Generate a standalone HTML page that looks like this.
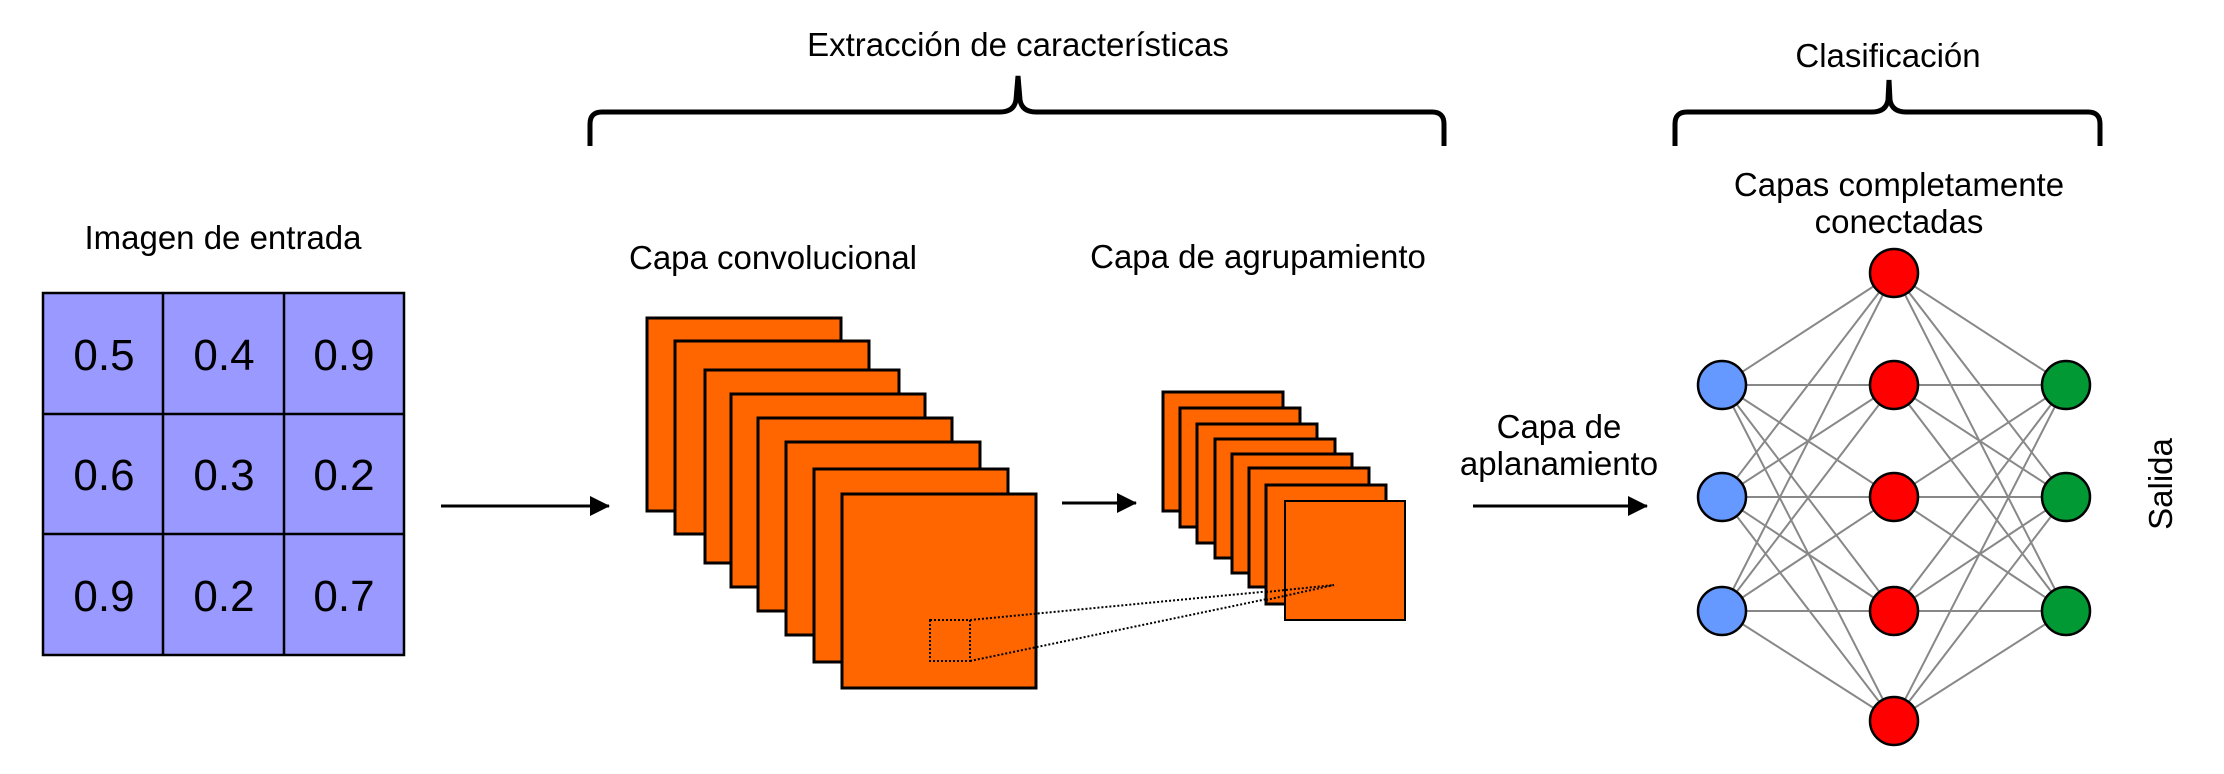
<!DOCTYPE html>
<html><head><meta charset="utf-8"><style>
html,body{margin:0;padding:0;background:#fff;}
svg{display:block;}
text{font-family:"Liberation Sans",Arial,sans-serif;fill:#000;}
</style></head><body>
<svg width="2224" height="774" viewBox="0 0 2224 774" xmlns="http://www.w3.org/2000/svg">
<defs>
<marker id="ah" markerWidth="20" markerHeight="20" refX="19" refY="10" orient="auto" markerUnits="userSpaceOnUse">
<path d="M0,0 L20,10 L0,20 z" fill="#000"/>
</marker>
</defs>
<text x="1018" y="56" font-size="33" text-anchor="middle">Extracción de características</text>
<text x="1888" y="67" font-size="33" text-anchor="middle">Clasificación</text>
<path d="M590,146 V124 Q590,112 602,112 H1000 Q1014,112 1016,100 L1018,76 L1020,100 Q1022,112 1036,112 H1432 Q1444,112 1444,124 V146" fill="none" stroke="#000" stroke-width="5"/>
<path d="M1675,146 V124 Q1675,112 1687,112 H1872 Q1886,112 1888,100 L1889,80 L1890,100 Q1892,112 1906,112 H2088 Q2100,112 2100,124 V146" fill="none" stroke="#000" stroke-width="5"/>

<text x="223" y="249" font-size="33" text-anchor="middle">Imagen de entrada</text>
<rect x="43" y="293" width="361" height="362" fill="#9999ff" stroke="#000" stroke-width="2.5"/>
<line x1="163" y1="293" x2="163" y2="655" stroke="#000" stroke-width="2.5"/>
<line x1="284" y1="293" x2="284" y2="655" stroke="#000" stroke-width="2.5"/>
<line x1="43" y1="414" x2="404" y2="414" stroke="#000" stroke-width="2.5"/>
<line x1="43" y1="534" x2="404" y2="534" stroke="#000" stroke-width="2.5"/>
<g font-size="44" text-anchor="middle">
<text x="104" y="370">0.5</text><text x="224" y="370">0.4</text><text x="344" y="370">0.9</text>
<text x="104" y="490">0.6</text><text x="224" y="490">0.3</text><text x="344" y="490">0.2</text>
<text x="104" y="611">0.9</text><text x="224" y="611">0.2</text><text x="344" y="611">0.7</text>
</g>
<line x1="441" y1="506" x2="609" y2="506" stroke="#000" stroke-width="3" marker-end="url(#ah)"/>

<text x="773" y="269" font-size="33" text-anchor="middle">Capa convolucional</text>
<g fill="#ff6600" stroke="#000" stroke-width="3">
<rect x="647" y="318" width="194" height="193"/>
<rect x="675" y="341" width="194" height="193"/>
<rect x="705" y="370" width="194" height="193"/>
<rect x="731" y="394" width="194" height="193"/>
<rect x="758" y="418" width="194" height="193"/>
<rect x="786" y="442" width="194" height="193"/>
<rect x="814" y="469" width="194" height="193"/>
<rect x="842" y="494" width="194" height="194"/>
</g>
<g fill="none" stroke="#000" stroke-width="2" stroke-dasharray="2,2">
<rect x="930" y="620" width="40" height="41"/>
<line x1="970" y1="620" x2="1334" y2="585"/>
<line x1="970" y1="661" x2="1334" y2="585"/>
</g>

<line x1="1062" y1="503" x2="1136" y2="503" stroke="#000" stroke-width="3" marker-end="url(#ah)"/>

<text x="1258" y="268" font-size="33" text-anchor="middle">Capa de agrupamiento</text>
<g fill="#ff6600" stroke="#000" stroke-width="3">
<rect x="1163" y="392" width="120" height="119"/>
<rect x="1180" y="408" width="120" height="119"/>
<rect x="1197" y="424" width="120" height="119"/>
<rect x="1215" y="439" width="120" height="119"/>
<rect x="1232" y="454" width="120" height="119"/>
<rect x="1249" y="468" width="120" height="119"/>
<rect x="1266" y="485" width="120" height="119"/>
</g>
<rect x="1285" y="501" width="120" height="119" fill="#ff6600" stroke="#000" stroke-width="2"/>
<g fill="none" stroke="#000" stroke-width="2" stroke-dasharray="2,2">
<line x1="1266" y1="600" x2="1334" y2="585"/>
<line x1="1266" y1="592" x2="1334" y2="585"/>
</g>

<text x="1559" y="438" font-size="33" text-anchor="middle">Capa de</text>
<text x="1559" y="475" font-size="33" text-anchor="middle">aplanamiento</text>
<line x1="1473" y1="506" x2="1647" y2="506" stroke="#000" stroke-width="3" marker-end="url(#ah)"/>

<text x="1899" y="196" font-size="33" text-anchor="middle">Capas completamente</text>
<text x="1899" y="233" font-size="33" text-anchor="middle">conectadas</text>
<g stroke="#888" stroke-width="2">
<path d="M1722,385 L1894,273 M1722,385 L1894,385 M1722,385 L1894,497 M1722,385 L1894,611 M1722,385 L1894,721
M1722,497 L1894,273 M1722,497 L1894,385 M1722,497 L1894,497 M1722,497 L1894,611 M1722,497 L1894,721
M1722,611 L1894,273 M1722,611 L1894,385 M1722,611 L1894,497 M1722,611 L1894,611 M1722,611 L1894,721"/>
<path d="M2066,385 L1894,273 M2066,385 L1894,385 M2066,385 L1894,497 M2066,385 L1894,611 M2066,385 L1894,721
M2066,497 L1894,273 M2066,497 L1894,385 M2066,497 L1894,497 M2066,497 L1894,611 M2066,497 L1894,721
M2066,611 L1894,273 M2066,611 L1894,385 M2066,611 L1894,497 M2066,611 L1894,611 M2066,611 L1894,721"/>
</g>
<g stroke="#000" stroke-width="2.5">
<ellipse cx="1722" cy="385" rx="24" ry="24" fill="#6699ff"/>
<ellipse cx="1722" cy="497" rx="24" ry="24" fill="#6699ff"/>
<ellipse cx="1722" cy="611" rx="24" ry="24" fill="#6699ff"/>
<ellipse cx="1894" cy="273" rx="24" ry="24" fill="#ff0000"/>
<ellipse cx="1894" cy="385" rx="24" ry="24" fill="#ff0000"/>
<ellipse cx="1894" cy="497" rx="24" ry="24" fill="#ff0000"/>
<ellipse cx="1894" cy="611" rx="24" ry="24" fill="#ff0000"/>
<ellipse cx="1894" cy="721" rx="24" ry="24" fill="#ff0000"/>
<ellipse cx="2066" cy="385" rx="24" ry="24" fill="#009933"/>
<ellipse cx="2066" cy="497" rx="24" ry="24" fill="#009933"/>
<ellipse cx="2066" cy="611" rx="24" ry="24" fill="#009933"/>
</g>
<text x="0" y="0" font-size="33" text-anchor="middle" transform="translate(2172,484) rotate(-90)">Salida</text>
</svg>
</body></html>
